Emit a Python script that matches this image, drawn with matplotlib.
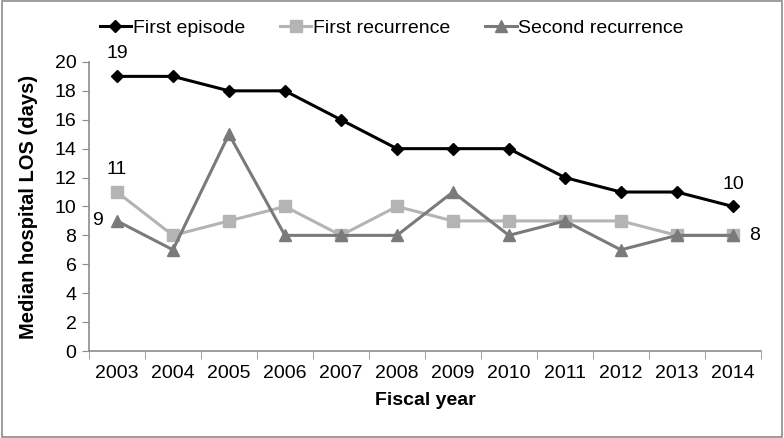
import numpy as np
import matplotlib.pyplot as plt
from matplotlib.patches import Rectangle

plt.rcParams['font.family'] = ['Liberation Sans', 'DejaVu Sans']

years = ['2003', '2004', '2005', '2006', '2007', '2008', '2009', '2010', '2011', '2012', '2013', '2014']
first_episode = [19, 19, 18, 18, 16, 14, 14, 14, 12, 11, 11, 10]
first_recurrence = [11, 8, 9, 10, 8, 10, 9, 9, 9, 9, 8, 8]
second_recurrence = [9, 7, 15, 8, 8, 8, 11, 8, 9, 7, 8, 8]

x = np.arange(len(years))

fig = plt.figure(figsize=(7.84, 4.38), dpi=100)
ax = fig.add_axes([0.1135, 0.1986, 0.857, 0.66])

# outer border of the figure
fig.patches.append(Rectangle((0.003, 0.003), 0.994, 0.994, transform=fig.transFigure,
                             fill=False, edgecolor='#8c8c8c', linewidth=1.2))

ax.plot(x, first_recurrence, color='#b4b4b4', lw=2.2, marker='s', ms=8,
        label='First recurrence', zorder=2)
ax.plot(x, second_recurrence, color='#7a7a7a', lw=2.2, marker='^', ms=9,
        label='Second recurrence', zorder=3)
ax.plot(x, first_episode, color='black', lw=2.2, marker='D', ms=6,
        label='First episode', zorder=4)

# data labels
fs = 14
ax.annotate(str(first_episode[0]), (x[0], first_episode[0]), xytext=(0, 10),
            textcoords='offset points', ha='center', va='bottom', fontsize=fs)
ax.annotate(str(first_recurrence[0]), (x[0], first_recurrence[0]), xytext=(0, 10),
            textcoords='offset points', ha='center', va='bottom', fontsize=fs)
ax.annotate(str(second_recurrence[0]), (x[0], second_recurrence[0]), xytext=(-10, 0),
            textcoords='offset points', ha='right', va='center', fontsize=fs)
ax.annotate(str(first_episode[-1]), (x[-1], first_episode[-1]), xytext=(0, 10),
            textcoords='offset points', ha='center', va='bottom', fontsize=fs)
ax.annotate(str(second_recurrence[-1]), (x[-1], second_recurrence[-1]), xytext=(12, 0),
            textcoords='offset points', ha='left', va='center', fontsize=fs)

ax.set_xlim(-0.5, len(years) - 0.5)
ax.set_ylim(0, 20)
ax.set_yticks(range(0, 21, 2))
ax.tick_params(axis='y', labelsize=fs, length=5, color='#8c8c8c', pad=4)

ax.set_xticks(x)
ax.set_xticklabels(years, fontsize=fs)
ax.tick_params(axis='x', which='major', length=0, pad=10)
ax.set_xticks(np.arange(-0.5, len(years), 1), minor=True)
ax.tick_params(axis='x', which='minor', length=6, color='#8c8c8c')

for s in ['top', 'right']:
    ax.spines[s].set_visible(False)
for s in ['left', 'bottom']:
    ax.spines[s].set_color('#8c8c8c')
    ax.spines[s].set_linewidth(1.2)

ax.set_xlabel('Fiscal year', fontsize=14, fontweight='bold', labelpad=7)
ax.set_ylabel('Median hospital LOS (days)', fontsize=14.5, fontweight='bold', labelpad=12)

h, l = ax.get_legend_handles_labels()
order = [2, 0, 1]
fig.legend([h[i] for i in order], [l[i] for i in order], loc='center left',
           bbox_to_anchor=(0.105, 0.936), ncol=3, frameon=False, fontsize=fs,
           handlelength=1.6, handletextpad=0.1, columnspacing=1.8)

fig.savefig('out.png', dpi=100)
